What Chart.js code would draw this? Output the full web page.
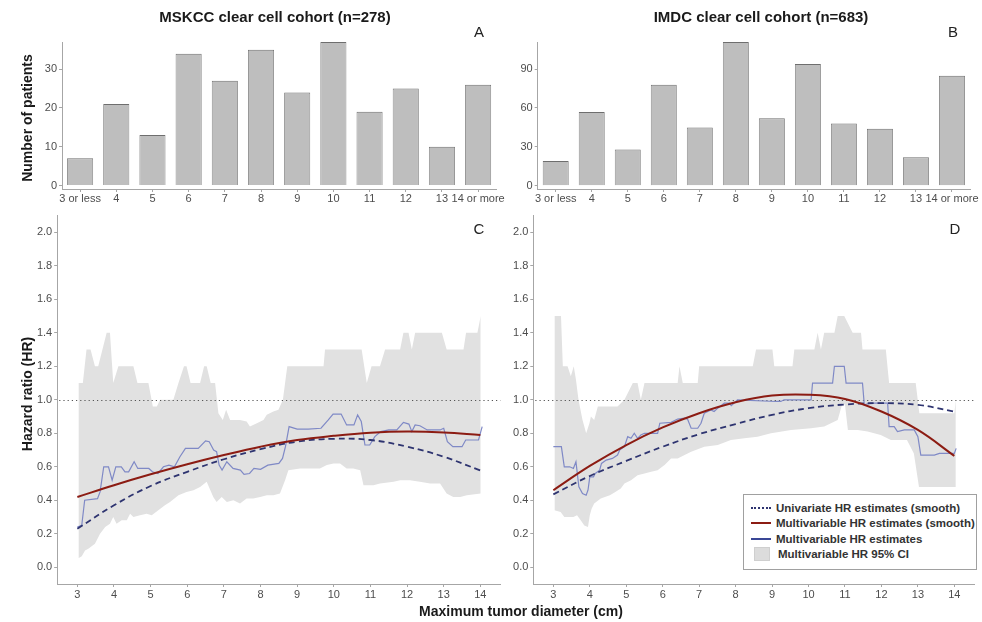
<!DOCTYPE html>
<html>
<head>
<meta charset="utf-8">
<script src="https://cdn.jsdelivr.net/npm/chart.js@4.4.1/dist/chart.umd.min.js"></script>
<style>
  body { margin:0; background:#fff; width:982px; height:622px; overflow:hidden; position:relative;
         font-family:'Liberation Sans', Arial, sans-serif; color:#1a1a1a; }
  .pane { position:absolute; }
  .lbl { position:absolute; transform:translate(-50%,-50%); white-space:nowrap; }
  .ttl { font-weight:bold; font-size:15px; }
  .tag { font-size:15px; color:#222; }
  .axt { font-weight:bold; font-size:14px; }
  .rot { transform:translate(-50%,-50%) rotate(-90deg); }
  #legend { position:absolute; left:743px; top:494px; width:234px; height:76px; box-sizing:border-box;
            border:1px solid #a0a0a0; background:#fff; padding:5px 0 0 7px; font-weight:bold; font-size:11.5px; color:#333; }
  #legend .row { height:15.5px; display:flex; align-items:center; }
  #legend .smp { width:20px; margin-right:5px; flex:none; }
</style>
</head>
<body>

<div class="pane" style="left:0;top:0;width:505px;height:210px"><canvas id="chartA"></canvas></div>
<div class="pane" style="left:480px;top:0;width:500px;height:210px"><canvas id="chartB"></canvas></div>
<div class="pane" style="left:0;top:205px;width:510px;height:400px"><canvas id="chartC"></canvas></div>
<div class="pane" style="left:480px;top:205px;width:500px;height:400px"><canvas id="chartD"></canvas></div>

<div class="lbl ttl" style="left:275px;top:16px">MSKCC clear cell cohort (n=278)</div>
<div class="lbl ttl" style="left:761px;top:16px">IMDC clear cell cohort (n=683)</div>
<div class="lbl tag" style="left:479px;top:31px">A</div>
<div class="lbl tag" style="left:953px;top:31px">B</div>
<div class="lbl tag" style="left:479px;top:228px">C</div>
<div class="lbl tag" style="left:955px;top:228px">D</div>
<div class="lbl axt rot" style="left:27px;top:118px">Number of patients</div>
<div class="lbl axt rot" style="left:27px;top:394px">Hazard ratio (HR)</div>
<div class="lbl axt" style="left:521px;top:611px">Maximum tumor diameter (cm)</div>

<div id="legend">
  <div class="row"><span class="smp" style="border-top:2px dotted #2e3470"></span>Univariate HR estimates (smooth)</div>
  <div class="row"><span class="smp" style="border-top:2px solid #8c1c13"></span>Multivariable HR estimates (smooth)</div>
  <div class="row"><span class="smp" style="border-top:2px solid #3a4796"></span>Multivariable HR estimates</div>
  <div class="row"><span class="smp" style="height:12px;width:14px;margin:0 8px 0 3px;background:#dcdcdc;border:1px solid #cfcfcf"></span>Multivariable HR 95% CI</div>
</div>

<script>
// ---- data ----
const sizeCats = ['3 or less', '4', '5', '6', '7', '8', '9', '10', '11', '12', '13', '14 or more'];
const mskccCounts = [7, 21, 13, 34, 27, 35, 24, 37, 19, 25, 10, 26];
const imdcCounts = [19, 57, 28, 78, 45, 111, 52, 94, 48, 44, 22, 85];
const mskccCountTicks = [0, 10, 20, 30];
const imdcCountTicks = [0, 30, 60, 90];

const hrTicks = [0, 0.2, 0.4, 0.6, 0.8, 1.0, 1.2, 1.4, 1.6, 1.8, 2.0];
const diamTicks = [3, 4, 5, 6, 7, 8, 9, 10, 11, 12, 13, 14];
const hrRef = 1.0;

// smooth fits, read at whole cm
const smoothX = [3, 4, 5, 6, 7, 8, 9, 10, 11, 12, 13, 14];
const mskccUniSmooth = [0.23, 0.37, 0.485, 0.57, 0.645, 0.705, 0.75, 0.767, 0.76, 0.72, 0.66, 0.578];
const mskccMultiSmooth = [0.42, 0.49, 0.555, 0.615, 0.67, 0.72, 0.76, 0.785, 0.803, 0.81, 0.805, 0.79];
const imdcUniSmooth = [0.435, 0.545, 0.635, 0.72, 0.795, 0.855, 0.91, 0.95, 0.972, 0.98, 0.97, 0.93];
const imdcMultiSmooth = [0.46, 0.605, 0.73, 0.835, 0.92, 0.985, 1.025, 1.03, 1.005, 0.93, 0.82, 0.665];

// running multivariable HR estimates [cm, HR]
const mskccMultiHR = [[3.0,0.24],[3.12,0.25],[3.2,0.40],[3.55,0.41],[3.62,0.45],[3.72,0.60],[3.85,0.60],[3.95,0.52],
  [4.05,0.60],[4.2,0.60],[4.3,0.57],[4.4,0.57],[4.55,0.63],[4.65,0.59],[4.95,0.59],[5.05,0.57],[5.2,0.56],[5.35,0.60],
  [5.5,0.61],[5.65,0.60],[5.8,0.66],[5.95,0.71],[6.3,0.71],[6.5,0.755],[6.6,0.75],[6.72,0.70],[6.8,0.69],[6.87,0.61],
  [6.95,0.58],[7.08,0.63],[7.25,0.59],[7.45,0.58],[7.55,0.555],[7.7,0.56],[7.82,0.59],[8.0,0.585],[8.2,0.61],[8.5,0.62],
  [8.6,0.65],[8.68,0.72],[8.78,0.84],[9.0,0.825],[9.3,0.825],[9.65,0.83],[9.85,0.88],[9.98,0.915],[10.2,0.915],[10.35,0.85],
  [10.55,0.85],[10.65,0.91],[10.75,0.87],[10.85,0.73],[10.98,0.73],[11.12,0.78],[11.28,0.81],[11.5,0.82],[11.72,0.82],
  [11.9,0.865],[12.05,0.855],[12.13,0.81],[12.22,0.85],[12.35,0.845],[12.55,0.82],[12.9,0.82],[13.0,0.83],[13.1,0.75],
  [13.25,0.72],[13.5,0.72],[13.6,0.76],[13.95,0.76],[14.05,0.84]];
const mskccCIlow = [[3.03,0.054],[3.12,0.065],[3.21,0.10],[3.30,0.11],[3.48,0.14],[3.62,0.20],[3.76,0.24],[3.89,0.26],
  [3.98,0.30],[4.07,0.26],[4.21,0.28],[4.35,0.28],[4.44,0.32],[4.53,0.30],[4.71,0.31],[4.89,0.32],[5.03,0.31],[5.21,0.34],
  [5.39,0.37],[5.53,0.39],[5.76,0.43],[5.98,0.45],[6.17,0.46],[6.35,0.48],[6.53,0.51],[6.71,0.42],[6.80,0.39],[6.94,0.42],
  [7.08,0.39],[7.26,0.40],[7.44,0.38],[7.62,0.41],[7.80,0.41],[7.99,0.42],[8.17,0.43],[8.35,0.43],[8.53,0.44],[8.67,0.52],
  [8.76,0.58],[9.08,0.59],[9.62,0.59],[9.81,0.61],[9.99,0.62],[10.17,0.62],[10.35,0.59],[10.53,0.59],[10.72,0.58],
  [10.81,0.49],[11.08,0.49],[11.26,0.50],[11.63,0.51],[11.81,0.52],[12.08,0.52],[12.35,0.51],[12.63,0.50],[12.90,0.50],
  [13.08,0.44],[13.26,0.42],[13.45,0.42],[13.63,0.43],[14.01,0.44]];
const mskccCIhigh = [[3.03,1.10],[3.15,1.10],[3.25,1.30],[3.36,1.30],[3.48,1.20],[3.57,1.20],[3.80,1.40],[3.89,1.40],
  [3.98,1.10],[4.12,1.20],[4.53,1.20],[4.64,1.10],[4.94,1.10],[5.06,0.96],[5.17,0.96],[5.26,1.0],[5.62,1.0],[5.76,1.10],
  [5.91,1.20],[5.98,1.20],[6.09,1.10],[6.35,1.10],[6.46,1.20],[6.53,1.20],[6.64,1.10],[6.76,1.10],[6.85,0.92],[6.97,0.88],
  [7.06,0.94],[7.17,0.88],[7.44,0.88],[7.62,0.87],[7.71,0.84],[7.90,0.86],[8.08,0.88],[8.17,0.91],[8.35,0.93],[8.49,0.94],
  [8.61,1.0],[8.67,1.10],[8.73,1.20],[9.72,1.20],[9.76,1.30],[10.76,1.30],[10.9,1.10],[11.03,1.20],[11.26,1.20],[11.40,1.30],
  [11.81,1.30],[11.9,1.40],[12.04,1.40],[12.13,1.30],[12.22,1.40],[12.95,1.40],[13.08,1.30],[13.54,1.30],[13.61,1.40],
  [13.92,1.40],[14.01,1.50]];

const imdcMultiHR = [[3.0,0.72],[3.22,0.72],[3.3,0.60],[3.45,0.60],[3.55,0.59],[3.62,0.63],[3.7,0.48],[3.8,0.44],[3.9,0.43],
  [3.95,0.46],[4.0,0.54],[4.1,0.54],[4.15,0.56],[4.27,0.58],[4.32,0.62],[4.45,0.64],[4.62,0.65],[4.76,0.67],[4.82,0.70],
  [4.95,0.72],[5.04,0.78],[5.13,0.77],[5.22,0.80],[5.31,0.77],[5.40,0.79],[5.50,0.80],[5.86,0.80],[5.92,0.86],[6.23,0.865],
  [6.41,0.885],[6.6,0.89],[6.68,0.885],[6.78,0.83],[6.96,0.83],[7.05,0.86],[7.14,0.92],[7.32,0.94],[7.41,0.93],[7.51,0.95],
  [7.69,0.98],[7.83,0.98],[7.88,0.965],[7.96,0.98],[8.05,1.0],[9.11,0.99],[9.24,0.99],[9.33,1.0],[10.07,1.0],[10.11,1.10],
  [10.66,1.10],[10.71,1.20],[10.98,1.20],[11.03,1.10],[11.48,1.10],[11.53,0.97],[11.7,0.98],[12.17,0.98],[12.21,0.84],
  [12.35,0.84],[12.44,0.81],[12.63,0.82],[12.9,0.82],[13.0,0.78],[13.08,0.67],[13.45,0.67],[13.59,0.68],[14.0,0.68],[14.05,0.71]];
const imdcCIlow = [[3.03,0.34],[3.2,0.33],[3.3,0.30],[3.55,0.30],[3.65,0.31],[3.75,0.28],[3.85,0.25],[3.95,0.24],[4.0,0.31],
  [4.05,0.35],[4.12,0.38],[4.3,0.41],[4.55,0.43],[4.7,0.45],[4.85,0.47],[4.95,0.50],[5.13,0.52],[5.31,0.55],[5.5,0.56],
  [5.68,0.57],[5.86,0.58],[6.05,0.61],[6.23,0.65],[6.41,0.65],[6.6,0.67],[6.78,0.69],[7.14,0.72],[7.51,0.73],[7.87,0.76],
  [8.24,0.77],[8.6,0.78],[8.97,0.80],[9.52,0.82],[10.07,0.83],[10.43,0.84],[10.8,0.88],[10.93,0.98],[11.0,0.97],[11.08,0.82],
  [11.35,0.82],[11.62,0.81],[11.98,0.79],[12.26,0.76],[12.7,0.76],[12.89,0.68],[13.03,0.48],[14.04,0.48]];
const imdcCIhigh = [[3.03,1.50],[3.21,1.50],[3.26,1.20],[3.39,1.20],[3.48,1.14],[3.56,1.20],[3.62,1.12],[3.69,1.0],[3.80,0.88],
  [3.90,0.80],[3.99,0.86],[4.03,0.90],[4.12,0.88],[4.22,0.96],[4.76,0.96],[4.95,1.0],[5.18,1.10],[5.31,1.10],[5.40,1.00],
  [5.50,1.10],[6.41,1.10],[6.46,1.20],[6.55,1.10],[6.96,1.10],[7.0,1.20],[8.47,1.20],[8.56,1.30],[9.01,1.30],[9.06,1.20],
  [9.56,1.20],[9.61,1.30],[10.16,1.30],[10.25,1.40],[10.34,1.30],[10.43,1.40],[10.71,1.40],[10.80,1.50],[10.98,1.50],
  [11.21,1.40],[11.44,1.40],[11.48,1.30],[12.12,1.30],[12.21,1.10],[12.94,1.10],[13.04,0.92],[14.0,0.92],[14.04,1.0]];

// ---- styling ----
const tickFont = { family: "'Liberation Sans', Arial, sans-serif", size: 11 };
const tickColor = '#4d4d4d';
const axisColor = '#a6a6a6';
Chart.defaults.animation = false;

function pts(pairs) { return pairs.map(p => ({ x: p[0], y: p[1] })); }
function smooth(ys) { return ys.map((y, i) => ({ x: smoothX[i], y: y })); }
function setTicks(list) { return s => { s.ticks = list.map(v => ({ value: v })); }; }

// dotted reference line at HR = 1, drawn right after the CI band (dataset 4)
const refLine = {
  id: 'refLine',
  afterDatasetDraw(chart, args) {
    if (chart.config.type !== 'line' || args.index !== 4) return;
    const { ctx, chartArea: a, scales } = chart;
    const y = Math.round(scales.y.getPixelForValue(hrRef)) + 0.5;
    ctx.save();
    ctx.strokeStyle = '#555';
    ctx.lineWidth = 1.2;
    ctx.setLineDash([1.2, 3]);
    ctx.beginPath();
    ctx.moveTo(a.left + 2, y);
    ctx.lineTo(a.right, y);
    ctx.stroke();
    ctx.restore();
  }
};
Chart.register(refLine);

function makeBars(id, counts, yTicks, yMin, yMax, yWidth, pad) {
  return new Chart(document.getElementById(id), {
    type: 'bar',
    data: {
      labels: sizeCats,
      datasets: [{
        data: counts,
        backgroundColor: '#bebebe',
        borderColor: '#6e6e6e',
        borderWidth: { top: 1, left: 0.8, right: 0.8, bottom: 0 },
        borderSkipped: 'bottom',
        barPercentage: 0.72,
        categoryPercentage: 1
      }]
    },
    options: {
      responsive: true,
      maintainAspectRatio: false,
      layout: { padding: pad },
      plugins: { legend: { display: false }, tooltip: { enabled: false } },
      scales: {
        x: {
          offset: true,
          grid: { drawOnChartArea: false, tickLength: 3, color: axisColor, offset: false },
          border: { color: axisColor },
          ticks: { font: tickFont, color: tickColor, autoSkip: false, maxRotation: 0, minRotation: 0, padding: 0 },
          afterFit: s => { s.height = 21; }
        },
        y: {
          min: yMin, max: yMax,
          afterBuildTicks: setTicks(yTicks),
          grid: { drawOnChartArea: false, tickLength: 3, color: axisColor },
          border: { color: axisColor },
          ticks: { font: tickFont, color: tickColor, padding: 2 },
          afterFit: s => { s.width = yWidth; }
        }
      }
    }
  });
}

function makeHR(id, uni, multi, est, lo, hi, yWidth, pad) {
  return new Chart(document.getElementById(id), {
    type: 'line',
    data: {
      datasets: [
        { data: smooth(multi), borderColor: '#8c1c13', borderWidth: 2, pointRadius: 0, tension: 0.4, order: 1 },
        { data: smooth(uni), borderColor: '#2e3470', borderWidth: 1.8, borderDash: [6, 4], pointRadius: 0, tension: 0.4, order: 2 },
        { data: pts(est), borderColor: '#7f89c6', borderWidth: 1.2, pointRadius: 0, tension: 0, order: 3 },
        { data: pts(lo), borderWidth: 0, borderColor: 'rgba(0,0,0,0)', pointRadius: 0, tension: 0, order: 4 },
        { data: pts(hi), borderWidth: 0, borderColor: 'rgba(0,0,0,0)', pointRadius: 0, tension: 0, order: 5,
          fill: 3, backgroundColor: '#e1e1e1' }
      ]
    },
    options: {
      responsive: true,
      maintainAspectRatio: false,
      layout: { padding: pad },
      plugins: { legend: { display: false }, tooltip: { enabled: false } },
      scales: {
        x: {
          type: 'linear', min: 2.45, max: 14.55,
          afterBuildTicks: setTicks(diamTicks),
          grid: { drawOnChartArea: false, tickLength: 3, color: axisColor },
          border: { color: axisColor },
          ticks: { font: tickFont, color: tickColor, padding: 1 },
          afterFit: s => { s.height = 21; }
        },
        y: {
          min: -0.1, max: 2.1,
          afterBuildTicks: setTicks(hrTicks),
          grid: { drawOnChartArea: false, tickLength: 3, color: axisColor },
          border: { color: axisColor },
          ticks: { font: tickFont, color: tickColor, padding: 2, callback: v => v.toFixed(1) },
          afterFit: s => { s.width = yWidth; }
        }
      }
    }
  });
}

makeBars('chartA', mskccCounts, mskccCountTicks, -0.9, 37, 62, { top: 42, right: 7 });
makeBars('chartB', imdcCounts, imdcCountTicks, -2.6, 111, 57.7, { top: 42, right: 10 });
makeHR('chartC', mskccUniSmooth, mskccMultiSmooth, mskccMultiHR, mskccCIlow, mskccCIhigh, 57.2, { top: 10.6, right: 9.5 });
makeHR('chartD', imdcUniSmooth, imdcMultiSmooth, imdcMultiHR, imdcCIlow, imdcCIhigh, 53.3, { top: 10.6, right: 5.6 });
</script>
</body>
</html>
